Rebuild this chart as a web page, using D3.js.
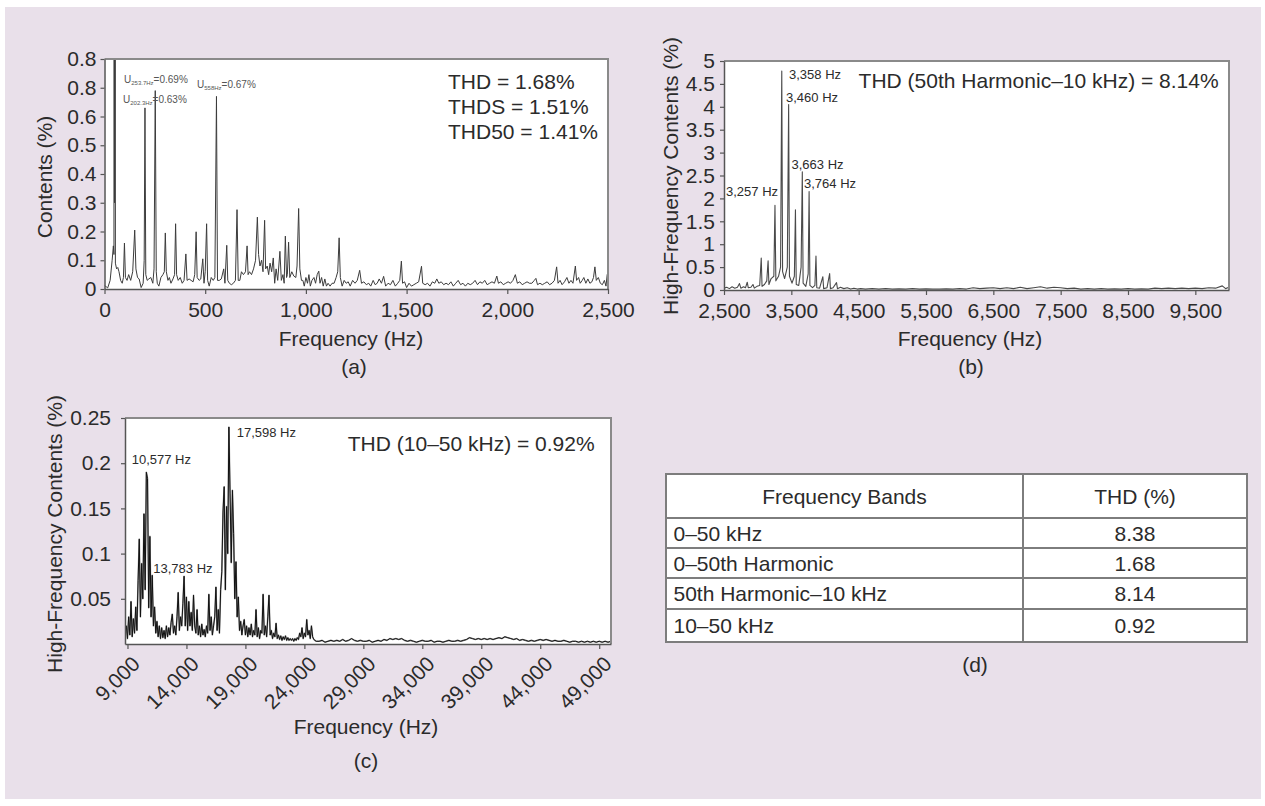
<!DOCTYPE html>
<html>
<head>
<meta charset="utf-8">
<script src="https://cdn.jsdelivr.net/npm/d3@7"></script>
<style>
  body { margin: 0; background: #fff; }
  svg { display: block; }
</style>
</head>
<body>
<svg id="chart" width="1265" height="806"></svg>
<script>
// ---- data ----

// (a) 0–2,500 Hz spectrum, [Hz, %]
const specA = [
  [0,0.012],[8,0.008],[16,0.004],[28,0.03],[38,0.1],[44,0.15],[47,0.12],[48,100],[50,0.3],[52,100],[54,0.09],
  [60,0.07],[66,0.075],[72,0.06],[80,0.03],[88,0.02],[94,0.04],[99,0.16],[104,0.04],[112,0.03],[120,0.05],
  [130,0.03],[140,0.06],[150,0.205],[156,0.07],[164,0.04],[172,0.035],[182,0.005],[192,0.02],[197,0.1],
  [201,0.63],[205,0.05],[212,0.03],[220,0.035],[230,0.04],[240,0.02],[246,0.07],[252,0.69],[257,0.06],
  [262,0.02],[270,0.01],[280,0.04],[290,0.05],[297,0.06],[302,0.195],[307,0.06],[315,0.03],[322,0.04],
  [330,0.02],[340,0.035],[348,0.05],[353,0.227],[358,0.05],[366,0.03],[376,0.04],[386,0.02],[395,0.03],
  [404,0.122],[410,0.03],[420,0.035],[430,0.03],[440,0.025],[448,0.05],[455,0.199],[460,0.04],[470,0.03],
  [478,0.035],[488,0.105],[494,0.02],[500,0.06],[507,0.227],[512,0.03],[520,0.01],[530,0.04],[540,0.03],
  [548,0.04],[556,0.67],[561,0.03],[570,0.03],[580,0.035],[592,0.07],[598,0.02],[607,0.152],[612,0.03],
  [620,0.02],[630,0.015],[640,0.02],[650,0.03],[658,0.276],[664,0.03],[672,0.03],[680,0.06],[690,0.05],
  [700,0.06],[708,0.15],[713,0.05],[720,0.06],[730,0.05],[740,0.07],[750,0.1],[759,0.25],[765,0.12],
  [772,0.08],[780,0.1],[787,0.06],[795,0.239],[800,0.07],[808,0.08],[815,0.05],[822,0.09],[830,0.06],
  [838,0.108],[845,0.02],[852,0.07],[860,0.03],[871,0.131],[878,0.03],[886,0.05],[892,0.02],[898,0.184],
  [904,0.04],[908,0.05],[914,0.163],[920,0.04],[930,0.06],[940,0.045],[950,0.04],[956,0.08],[964,0.28],
  [970,0.07],[978,0.03],[985,0.03],[992,0.01],[1000,0.04],[1008,0.02],[1015,0.05],[1022,0.01],[1030,0.03],
  [1040,0.04],[1048,0.02],[1056,0.05],[1064,0.062],[1070,0.02],[1078,0.04],[1086,0.01],[1094,0.035],
  [1102,0.01],[1110,0.02],[1120,0.01],[1130,0.02],[1140,0.02],[1150,0.04],[1158,0.06],[1165,0.178],
  [1171,0.04],[1180,0.01],[1190,0.03],[1200,0.02],[1210,0.025],[1220,0.01],[1232,0.03],[1244,0.02],
  [1255,0.03],[1267,0.065],[1276,0.02],[1288,0.025],[1300,0.015],[1312,0.02],[1322,0.01],[1334,0.03],
  [1344,0.015],[1354,0.02],[1364,0.035],[1375,0.02],[1386,0.044],[1396,0.01],[1408,0.02],[1420,0.015],
  [1432,0.03],[1444,0.01],[1456,0.02],[1466,0.03],[1474,0.097],[1480,0.02],[1490,0.025],[1500,0.005],
  [1512,0.02],[1524,0.01],[1536,0.015],[1548,0.02],[1560,0.025],[1574,0.079],[1580,0.02],[1592,0.015],
  [1604,0.02],[1616,0.01],[1628,0.025],[1640,0.02],[1650,0.035],[1660,0.02],[1672,0.025],[1684,0.015],
  [1696,0.02],[1708,0.015],[1720,0.025],[1732,0.01],[1744,0.02],[1756,0.03],[1768,0.015],[1780,0.02],
  [1792,0.01],[1804,0.02],[1816,0.015],[1828,0.02],[1840,0.03],[1852,0.015],[1864,0.025],[1876,0.02],
  [1888,0.03],[1900,0.015],[1912,0.02],[1924,0.025],[1936,0.02],[1948,0.045],[1956,0.02],[1968,0.025],
  [1980,0.015],[1992,0.02],[2004,0.025],[2016,0.02],[2028,0.03],[2040,0.05],[2050,0.02],[2062,0.025],
  [2074,0.015],[2086,0.02],[2098,0.025],[2110,0.02],[2122,0.02],[2134,0.03],[2142,0.037],[2150,0.015],
  [2162,0.02],[2174,0.015],[2186,0.02],[2198,0.025],[2210,0.015],[2222,0.02],[2234,0.03],[2245,0.077],
  [2252,0.02],[2262,0.03],[2272,0.015],[2284,0.025],[2296,0.04],[2306,0.02],[2316,0.03],[2326,0.02],
  [2338,0.08],[2344,0.03],[2354,0.04],[2362,0.02],[2372,0.03],[2380,0.04],[2390,0.02],[2400,0.035],
  [2410,0.02],[2420,0.025],[2428,0.04],[2435,0.077],[2442,0.03],[2452,0.04],[2462,0.02],[2472,0.015],
  [2482,0.03],[2490,0.01],[2496,0.05],[2500,0.045]
];
const xTicksA = [0, 500, 1000, 1500, 2000, 2500];
const yTicksA = [0, 0.1, 0.2, 0.3, 0.4, 0.5, 0.6, 0.7, 0.8];
const yTickLabelsA = ['0', '0.1', '0.2', '0.3', '0.4', '0.5', '0.6', '0.8', '0.8'];
const thdLinesA = ['THD = 1.68%', 'THDS = 1.51%', 'THD50 = 1.41%'];
const peakNotesA = [['253.7Hz', '=0.69%'], ['202.3Hz', '=0.63%'], ['558Hz', '=0.67%']];

// (b) 50th harmonic – 10 kHz, [Hz, %]
const specB = [
  [2500,0.04],[2540,0.06],[2580,0.03],[2620,0.07],[2660,0.04],[2700,0.06],[2730,0.14],[2750,0.04],
  [2790,0.07],[2820,0.05],[2845,0.17],[2860,0.05],[2900,0.06],[2930,0.12],[2950,0.04],[2990,0.08],
  [3030,0.1],[3053,0.7],[3065,0.08],[3100,0.12],[3135,0.2],[3155,0.64],[3167,0.12],[3200,0.25],
  [3240,0.3],[3257,1.85],[3270,0.2],[3310,0.3],[3340,0.5],[3358,4.78],[3370,0.4],[3400,0.25],
  [3440,0.5],[3460,4.05],[3472,0.3],[3510,0.15],[3545,0.3],[3561,1.75],[3573,0.12],[3610,0.1],
  [3645,0.5],[3663,2.58],[3675,0.15],[3715,0.08],[3750,0.35],[3764,2.15],[3776,0.1],[3815,0.05],
  [3850,0.1],[3866,0.74],[3878,0.05],[3920,0.04],[3950,0.2],[3968,0.29],[3980,0.03],[4030,0.05],
  [4069,0.36],[4080,0.03],[4120,0.05],[4171,0.16],[4185,0.03],[4230,0.06],[4280,0.03],[4330,0.05],
  [4380,0.02],[4430,0.04],[4480,0.02],[4530,0.03],[4600,0.02],[4700,0.03],[4800,0.02],[4900,0.03],
  [5000,0.02],[5100,0.025],[5200,0.02],[5300,0.03],[5400,0.02],[5500,0.025],[5600,0.02],[5700,0.02],
  [5800,0.025],[5900,0.02],[6000,0.03],[6100,0.02],[6200,0.05],[6300,0.03],[6400,0.04],[6500,0.05],
  [6600,0.03],[6700,0.05],[6800,0.03],[6900,0.06],[7000,0.03],[7100,0.05],[7200,0.07],[7300,0.04],
  [7400,0.06],[7500,0.05],[7600,0.03],[7700,0.04],[7800,0.02],[7900,0.03],[8000,0.02],[8100,0.03],
  [8200,0.02],[8300,0.025],[8400,0.02],[8500,0.03],[8600,0.02],[8700,0.025],[8800,0.02],[8900,0.04],
  [9000,0.03],[9100,0.04],[9200,0.03],[9300,0.04],[9400,0.03],[9500,0.04],[9600,0.03],[9700,0.05],
  [9800,0.04],[9900,0.09],[9950,0.03],[10000,0.06]
];
const xTicksB = [2500, 3500, 4500, 5500, 6500, 7500, 8500, 9500];
const yTicksB = [0, 0.5, 1, 1.5, 2, 2.5, 3, 3.5, 4, 4.5, 5];
const thdB = 'THD (50th Harmonic–10 kHz) = 8.14%';
const peakLabelsB = ['3,358 Hz', '3,460 Hz', '3,663 Hz', '3,764 Hz', '3,257 Hz'];

// (c) 10–50 kHz, spectrum bins every 100 Hz from 8,800 Hz, then every 250 Hz
const binsC1 = { start: 8800, step: 100 };
const specC1 = [
  0.012,0.02,0.006,0.03,0.01,0.047,0.008,0.028,0.012,0.041,0.015,0.07,0.116,0.03,0.089,0.05,0.144,0.06,
  0.19,0.183,0.04,0.119,0.03,0.076,0.02,0.041,0.012,0.025,0.008,0.02,0.006,0.018,0.007,0.015,0.006,0.02,
  0.008,0.018,0.01,0.024,0.033,0.012,0.02,0.01,0.03,0.057,0.015,0.03,0.02,0.045,0.075,0.02,0.052,0.015,
  0.047,0.02,0.035,0.015,0.054,0.02,0.012,0.038,0.01,0.02,0.008,0.022,0.01,0.016,0.008,0.02,0.012,0.055,
  0.015,0.03,0.01,0.02,0.03,0.063,0.015,0.038,0.012,0.06,0.08,0.146,0.174,0.06,0.152,0.1,0.24,0.166,
  0.09,0.17,0.122,0.05,0.091,0.03,0.052,0.015,0.025,0.01,0.02,0.027,0.01,0.02,0.008,0.018,0.01,0.022,
  0.008,0.015,0.01,0.038,0.008,0.018,0.006,0.015,0.012,0.055,0.01,0.02,0.008,0.03,0.054,0.01,0.015,
  0.006,0.012,0.008,0.023,0.006,0.01,0.005,0.009,0.004,0.008,0.005,0.009,0.004,0.007,0.004,0.006,0.004,
  0.006,0.003,0.006,0.004,0.007,0.005,0.012,0.008,0.018,0.006,0.012,0.008,0.027,0.01,0.015,0.006,0.02,
  0.008,0.005,0.004,0.003
];
const binsC2 = { start: 25250, step: 250 };
const specC2 = [
  0.003,0.004,0.002,0.003,0.004,0.003,0.004,0.003,0.005,0.003,0.004,0.006,0.004,0.003,0.004,0.003,
  0.003,0.004,0.002,0.003,0.004,0.003,0.005,0.004,0.006,0.005,0.006,0.005,0.006,0.004,0.003,0.004,
  0.003,0.002,0.003,0.004,0.003,0.003,0.004,0.002,0.003,0.003,0.002,0.003,0.004,0.003,0.003,0.004,
  0.003,0.004,0.005,0.007,0.006,0.005,0.006,0.005,0.006,0.005,0.006,0.005,0.006,0.007,0.006,0.008,
  0.007,0.006,0.005,0.006,0.004,0.005,0.004,0.003,0.004,0.003,0.004,0.005,0.004,0.005,0.004,0.003,
  0.004,0.003,0.003,0.004,0.003,0.002,0.003,0.003,0.002,0.003,0.002,0.003,0.002,0.003,0.002,0.003,
  0.002,0.003,0.002,0.003
];
const xTicksC = [9000, 14000, 19000, 24000, 29000, 34000, 39000, 44000, 49000];
const yTicksC = [0.05, 0.1, 0.15, 0.2, 0.25];
const thdC = 'THD (10–50 kHz) = 0.92%';
const peakLabelsC = ['17,598 Hz', '10,577 Hz', '13,783 Hz'];

// (d) table
const tableHeader = ['Frequency Bands', 'THD (%)'];
const tableBands = ['0–50 kHz', '0–50th Harmonic', '50th Harmonic–10 kHz', '10–50 kHz'];
const tableTHD = ['8.38', '1.68', '8.14', '0.92'];

// ---- drawing ----
const FONT = '"Liberation Sans", Arial, Helvetica, sans-serif';
const INK = '#2b2b2b';
const FS = 21;

const svg = d3.select('#chart').attr('font-family', FONT);
svg.append('rect').attr('x', 5).attr('y', 7).attr('width', 1256).attr('height', 792).attr('fill', '#e9e0ea');

function styleAxis(sel) {
  sel.attr('font-size', FS).attr('font-family', FONT);
  sel.select('.domain').attr('stroke', '#555').attr('stroke-width', 1.5);
  sel.selectAll('.tick line').attr('stroke', '#555').attr('stroke-width', 1.2);
  sel.selectAll('.tick text').attr('fill', INK);
}

function addText(g, str, x, y, opts = {}) {
  return g.append('text')
    .attr('x', x).attr('y', y)
    .attr('font-size', opts.size || FS)
    .attr('fill', opts.fill || INK)
    .attr('text-anchor', opts.anchor || 'start')
    .text(str);
}

function spectrumPanel(p) {
  const x = d3.scaleLinear().domain(p.xDomain).range([p.left, p.right]);
  const y = d3.scaleLinear().domain(p.yDomain).range([p.bottom, p.top]);
  const g = svg.append('g');

  g.append('rect')
    .attr('x', p.left).attr('y', p.top)
    .attr('width', p.right - p.left).attr('height', p.bottom - p.top)
    .attr('fill', '#fff');

  g.append('clipPath').attr('id', p.id)
    .append('rect')
    .attr('x', p.left).attr('y', p.top)
    .attr('width', p.right - p.left).attr('height', p.bottom - p.top);

  const line = d3.line().x(d => x(d[0])).y(d => y(d[1]));
  const plot = g.append('g').attr('clip-path', `url(#${p.id})`);
  if (p.halo) {
    plot.append('path').datum(p.data)
      .attr('fill', 'none').attr('stroke', p.halo).attr('stroke-width', 1.6)
      .attr('stroke-linejoin', 'round').attr('d', line);
  }
  plot.append('path').datum(p.data)
    .attr('fill', 'none').attr('stroke', p.stroke).attr('stroke-width', p.width)
    .attr('stroke-linejoin', 'round').attr('d', line);

  // frame on top and right
  g.append('path')
    .attr('d', `M${p.left},${p.top}H${p.right}V${p.bottom}`)
    .attr('fill', 'none').attr('stroke', '#8a8a8a').attr('stroke-width', 2);

  const xAxis = g.append('g').attr('transform', `translate(0,${p.bottom})`)
    .call(d3.axisBottom(x).tickValues(p.xTicks).tickFormat(d3.format(','))
      .tickSize(5).tickSizeOuter(0).tickPadding(p.xPad));
  styleAxis(xAxis);
  if (p.rotate) {
    xAxis.selectAll('.tick text')
      .attr('x', 0).attr('y', 0).attr('dy', '0.35em')
      .attr('text-anchor', 'end')
      .attr('transform', 'translate(8,16) rotate(-45)');
  }

  const yAxis = g.append('g').attr('transform', `translate(${p.left},0)`)
    .call(d3.axisLeft(y).tickValues(p.yTicks)
      .tickFormat(p.yLabels ? (d, i) => p.yLabels[i] : d => d)
      .tickSize(4).tickSizeOuter(0).tickPadding(p.yPad));
  styleAxis(yAxis);

  g.append('text')
    .attr('transform', `translate(${p.yTitle[0]},${p.yTitle[1]}) rotate(-90)`)
    .attr('text-anchor', 'middle').attr('dy', '0.35em')
    .attr('font-size', FS).attr('fill', INK)
    .text(p.yTitleText);
  addText(g, 'Frequency (Hz)', p.xTitle[0], p.xTitle[1], { anchor: 'middle' });
  addText(g, p.letter, p.letterPos[0], p.letterPos[1], { anchor: 'middle' });

  return { g, x, y };
}

// (a)
const pa = spectrumPanel({
  id: 'clipA', data: specA, xDomain: [0, 2500], yDomain: [0, 0.8],
  left: 104.5, right: 608, top: 59, bottom: 289,
  xTicks: xTicksA, yTicks: yTicksA, yLabels: yTickLabelsA, xPad: 8, yPad: 4,
  stroke: '#3c3c3c', width: 1,
  yTitleText: 'Contents (%)', yTitle: [45, 177], xTitle: [351, 346],
  letter: '(a)', letterPos: [354, 374]
});
thdLinesA.forEach((t, i) => addText(pa.g, t, 448, 89 + i * 25));
const notePosA = [[124, 83], [123, 103], [197, 88]];
peakNotesA.forEach((n, i) => {
  const t = pa.g.append('text')
    .attr('x', notePosA[i][0]).attr('y', notePosA[i][1])
    .attr('font-size', 10).attr('fill', '#555');
  t.append('tspan').text('U');
  t.append('tspan').attr('font-size', 6).attr('dy', 2).text(n[0]);
  t.append('tspan').attr('dy', -2).text(n[1]);
});

// (b)
const pb = spectrumPanel({
  id: 'clipB', data: specB, xDomain: [2500, 10000], yDomain: [0, 5],
  left: 724, right: 1229, top: 61, bottom: 290,
  xTicks: xTicksB, yTicks: yTicksB, xPad: 8, yPad: 5,
  stroke: '#4a4a4a', width: 1.1,
  yTitleText: 'High-Frequency Contents (%)', yTitle: [671, 176], xTitle: [970, 346],
  letter: '(b)', letterPos: [971, 374]
});
addText(pb.g, thdB, 858.6, 88);
const labelPosB = [[789, 78.5], [786, 101.7], [791.5, 168.5], [804, 188], [726, 196]];
peakLabelsB.forEach((t, i) => addText(pb.g, t, labelPosB[i][0], labelPosB[i][1], { size: 13 }));

// (c)
const specC = specC1.map((v, i) => [binsC1.start + i * binsC1.step, v])
  .concat(specC2.map((v, i) => [binsC2.start + i * binsC2.step, v]));
const pc = spectrumPanel({
  id: 'clipC', data: specC, xDomain: [8790, 50000], yDomain: [0, 0.25],
  left: 125, right: 611, top: 418, bottom: 644,
  xTicks: xTicksC, yTicks: yTicksC, xPad: 8, yPad: 10, rotate: true,
  stroke: '#111', width: 1, halo: '#9a9a9a',
  yTitleText: 'High-Frequency Contents (%)', yTitle: [55, 534], xTitle: [366, 734],
  letter: '(c)', letterPos: [366, 768]
});
addText(pc.g, thdC, 347.8, 450.5);
const labelPosC = [[236.7, 437.3], [131.7, 464], [153.3, 572.7]];
peakLabelsC.forEach((t, i) => addText(pc.g, t, labelPosC[i][0], labelPosC[i][1], { size: 13 }));

// (d) table
const tbl = { left: 666, right: 1247, split: 1023, top: 474, rows: [44, 30, 30, 31, 33] };
const rowEdges = [tbl.top].concat(Array.from(d3.cumsum(tbl.rows), h => tbl.top + h));
const gd = svg.append('g');
gd.append('rect')
  .attr('x', tbl.left).attr('y', tbl.top)
  .attr('width', tbl.right - tbl.left).attr('height', rowEdges[rowEdges.length - 1] - tbl.top)
  .attr('fill', '#fff').attr('stroke', '#7d7d7d').attr('stroke-width', 2);
gd.selectAll('line.row').data(rowEdges.slice(1, -1)).join('line')
  .attr('x1', tbl.left).attr('x2', tbl.right).attr('y1', d => d).attr('y2', d => d)
  .attr('stroke', '#7d7d7d').attr('stroke-width', 2);
gd.append('line')
  .attr('x1', tbl.split).attr('x2', tbl.split).attr('y1', tbl.top).attr('y2', rowEdges[rowEdges.length - 1])
  .attr('stroke', '#7d7d7d').attr('stroke-width', 2);

const mid = i => (rowEdges[i] + rowEdges[i + 1]) / 2 + 7.5;
addText(gd, tableHeader[0], (tbl.left + tbl.split) / 2, mid(0), { anchor: 'middle' });
addText(gd, tableHeader[1], (tbl.split + tbl.right) / 2, mid(0), { anchor: 'middle' });
tableBands.forEach((b, i) => {
  addText(gd, b, tbl.left + 7.5, mid(i + 1));
  addText(gd, tableTHD[i], (tbl.split + tbl.right) / 2, mid(i + 1), { anchor: 'middle' });
});
addText(gd, '(d)', 975, 672, { anchor: 'middle' });
</script>
</body>
</html>
